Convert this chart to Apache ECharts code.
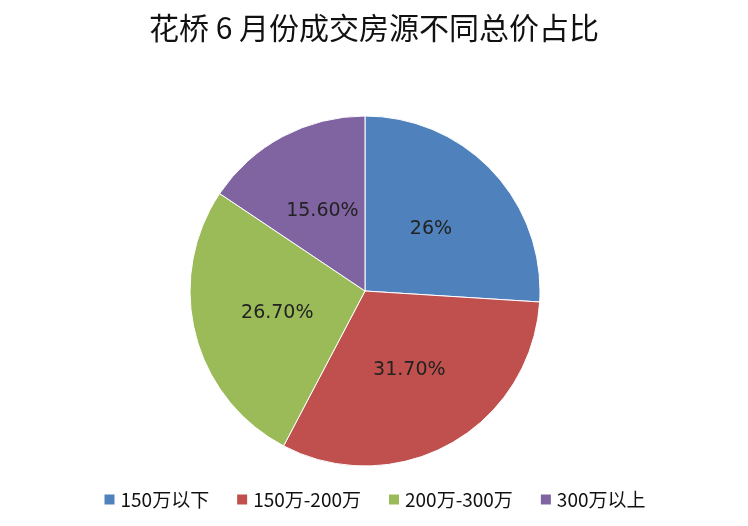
<!DOCTYPE html>
<html><head><meta charset="utf-8">
<script src="https://cdn.jsdelivr.net/npm/echarts@6/dist/echarts.min.js"></script>
<style>html,body{margin:0;background:#fff}#c{width:748px;height:526px}</style>
</head><body><div id="c"></div>
<script>
var categories = ['150万以下', '150万-200万', '200万-300万', '300万以上'];
var values = [26, 31.7, 26.7, 15.6];
var labels = ['26%', '31.70%', '26.70%', '15.60%'];
var colors = ['#4F81BD', '#C0504D', '#9BBB59', '#8064A2'];

var chart = echarts.init(document.getElementById('c'));
chart.setOption({
  title: {
    text: '花桥 6 月份成交房源不同总价占比',
    left: 'center', top: 8,
    textStyle: { fontFamily: 'Noto Sans CJK SC', fontSize: 30, fontWeight: 'normal', color: '#111' }
  },
  legend: {
    bottom: 12, left: 'center', itemWidth: 12, itemHeight: 12, itemGap: 26, icon: 'rect',
    textStyle: { fontFamily: 'Noto Sans CJK SC', fontSize: 19, color: '#111' },
    data: categories
  },
  series: [{
    type: 'pie', center: [365, 291], radius: 175, startAngle: 90, clockwise: true,
    color: colors,
    itemStyle: { borderColor: '#fff', borderWidth: 1 },
    label: {
      position: 'inner', fontSize: 19, color: '#222', fontFamily: 'DejaVu Sans',
      formatter: function (p) { return labels[p.dataIndex]; }
    },
    labelLine: { show: false },
    data: categories.map(function (n, i) { return { name: n, value: values[i] }; })
  }]
});
</script></body></html>
